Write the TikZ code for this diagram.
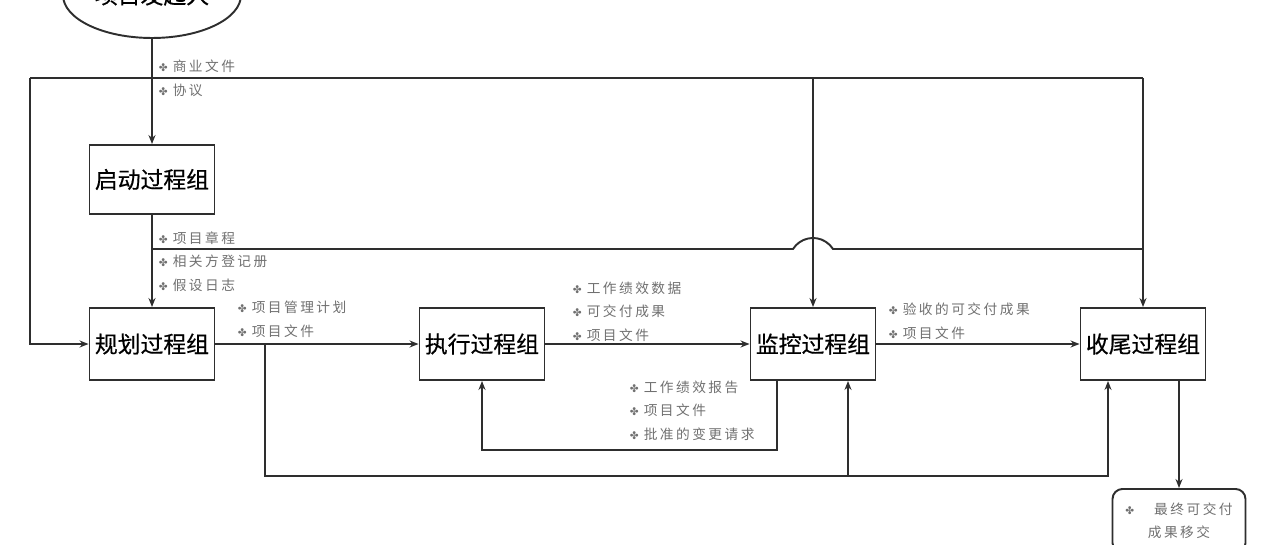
\documentclass[tikz,border=0pt]{standalone}
\usepackage{fontspec}
\usetikzlibrary{arrows.meta, shapes.geometric}
\newfontfamily\cjk[FakeBold=0.5]{Noto Sans CJK SC}
\newfontfamily\lblfont[LetterSpace=18]{Noto Sans CJK SC}
\newfontfamily\symfont{DejaVu Sans}
\definecolor{cline}{HTML}{2E2E2E}
\definecolor{clabel}{HTML}{707070}
\newcommand{\bul}{{\symfont\fontsize{6}{6}\selectfont ✤}\hspace{0.1cm}}
\tikzset{
  every picture/.style={line width=1.1pt},
  group/.style={draw=cline, rectangle, minimum width=2.5cm, minimum height=1.44cm, inner sep=0pt,
    font=\cjk\fontsize{13}{15}\selectfont},
  sponsorshape/.style={draw=cline, ellipse, minimum width=3cm, minimum height=1.72cm,
    font=\cjk\fontsize{13}{15}\selectfont},
  output/.style={draw=cline, rounded corners=0.2cm, minimum width=2.66cm, minimum height=1.28cm,
    align=center, text=clabel, font=\lblfont\fontsize{7.8}{13.1}\selectfont},
  items/.style={anchor=base west, inner sep=0pt, align=left, text=clabel,
    font=\lblfont\fontsize{7.8}{13.1}\selectfont},
  line/.style={draw=cline},
  arrow/.style={-{Stealth[length=1.8mm, width=1.4mm]}, draw=cline},
}

\begin{document}
\begin{tikzpicture}[x=0.02cm, y=-0.02cm]
  \useasboundingbox (0,0) rectangle (1280,544);
  \clip (0,0) rectangle (1280,544);
  % process groups
  \node[sponsorshape] (sponsor) at (152,-5) {项目发起人};
  \node[group, minimum height=1.38cm] (start) at (152,179.5) {启动过程组};
  \node[group] (plan) at (152,344) {规划过程组};
  \node[group] (exec) at (482,344) {执行过程组};
  \node[group] (monitor) at (813,344) {监控过程组};
  \node[group] (close) at (1143,344) {收尾过程组};
  \node[output, anchor=north] (final) at (1179,488) {\bul\hspace{0.3cm}最终可交付\\成果移交};

  % buses
  \coordinate (tl) at (30,78);
  \coordinate (tr) at (close.north |- tl);
  \coordinate (tm) at (monitor.north |- tl);
  \coordinate (cl) at (152,249);
  \coordinate (cr) at (close.north |- cl);
  \coordinate (hop) at (monitor.north |- cl);
  \coordinate (pj) at (265,345);
  \coordinate (mj) at (848,476);

  \draw[arrow] (sponsor) -- (start);
  \draw[line] (tl) -- (tr);
  \draw[arrow] (tl) |- (plan.west);
  \draw[arrow] (tm) -- (monitor.north);
  \draw[arrow] (tr) -- (close.north);
  \draw[arrow] (start) -- (plan);
  \draw[line] (cl) -- ([xshift=-0.4cm]hop) arc[start angle=147.6, end angle=32.4, radius=0.474cm] -- (cr);

  \draw[arrow] (plan) -- (exec);
  \draw[arrow] (exec) -- (monitor);
  \draw[arrow] (monitor) -- (close);
  \draw[arrow] (pj) |- (mj) -| ([xshift=-0.7cm]close.south);
  \draw[arrow] (mj) -- (mj |- monitor.south);
  \draw[arrow] ([xshift=-0.72cm]monitor.south) -- ++(0,69) -| (exec.south);
  \draw[arrow] (final.north |- close.south) -- (final.north);

  % labels
  \node[items] (lbiz) at (158,95) {\bul 商业文件\\\bul 协议};
  \node[items] (lcharter) at (158,290) {\bul 项目章程\\\bul 相关方登记册\\\bul 假设日志};
  \node[items] (lplan) at (237,336) {\bul 项目管理计划\\\bul 项目文件};
  \node[items] (lexec) at (572,340) {\bul 工作绩效数据\\\bul 可交付成果\\\bul 项目文件};
  \node[items] (lmon) at (629,439) {\bul 工作绩效报告\\\bul 项目文件\\\bul 批准的变更请求};
  \node[items] (laccept) at (888,338) {\bul 验收的可交付成果\\\bul 项目文件};
\end{tikzpicture}
\end{document}
